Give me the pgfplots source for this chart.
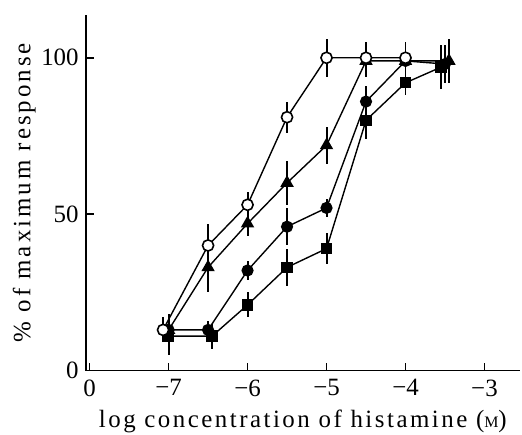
\documentclass[border=0pt]{standalone}
\usepackage{fontspec}
\setmainfont{Liberation Serif}
\usepackage{pgfplots}
\pgfplotsset{compat=1.18}
\usetikzlibrary{calc}
\begin{document}
\begin{tikzpicture}
\begin{axis}[
  scale only axis,
  width=218pt, height=178.5pt,
  xmin=-8.05, xmax=-2.55,
  ymin=0, ymax=113.7,
  axis x line*=bottom, axis y line*=left,
  axis line style={line width=0.9pt},
  tick style={black, line width=0.8pt},
  tick align=inside,
  major tick length=4pt,
  xtick={-8,-7,-6,-5,-4,-3},
  xticklabels={0,−7,−6,−5,−4,−3},
  ytick={0,50,100},
  yticklabels={0,50,100},
  ticklabel style={font=\fontsize{12.5}{14}\selectfont},
  x tick label style={yshift=-1pt},
  xlabel={\addfontfeature{LetterSpace=10}log concentration of histamine ({\footnotesize M})},
  ylabel={\addfontfeature{LetterSpace=12}\% of maximum response},
  label style={font=\fontsize{12.5}{14}\selectfont},
  xlabel style={yshift=0pt},
  ylabel style={yshift=-4pt},
  error bars/y dir=both, error bars/y explicit,
  error bars/error mark=none,
  error bars/error bar style={black, line width=1pt},
  clip=false,
]
% squares
\addplot[black, line width=0.7pt, mark=square*, mark size=2.5pt, mark options={fill=black, solid}] coordinates {
(-7,11) +- (0,6) (-6.45,11) +- (0,4) (-6,21) +- (0,4) (-5.5,33) +- (0,6)
(-5,39) +- (0,5) (-4.5,80) +- (0,6) (-4,92) +- (0,4) (-3.55,97) +- (0,7)};
% filled circles
\addplot[black, line width=0.7pt, mark=*, mark size=2.7pt, mark options={fill=black, solid}] coordinates {
(-7,13) +- (0,4) (-6.5,13) +- (0,3) (-6,32) +- (0,3) (-5.5,46) +- (0,6)
(-5,52) +- (0,3) (-4.5,86) +- (0,5) (-4,99) +- (0,4) (-3.5,98) +- (0,6)};
% triangles
\addplot[black, line width=0.7pt, mark=triangle*, mark size=3.2pt, mark options={fill=black, solid}] coordinates {
(-7,13) +- (0,5) (-6.5,33) +- (0,8) (-6,47) +- (0,4) (-5.5,60) +- (0,7)
(-5,72) +- (0,6) (-4.5,99) +- (0,5) (-4,99) +- (0,4) (-3.45,99) +- (0,7)};
% open circles
\addplot[black, line width=0.7pt, mark=*, mark size=2.8pt, mark options={fill=white, solid, line width=0.8pt}] coordinates {
(-7.07,13) +- (0,4) (-6.5,40) +- (0,7) (-6,53) +- (0,4) (-5.5,81) +- (0,5)
(-5,100) +- (0,6) (-4.5,100) +- (0,5) (-4,100) +- (0,5)};
\end{axis}
\pgfresetboundingbox
\path ($(current axis.south west)+(-43pt,-32pt)$) rectangle ($(current axis.north east)+(1pt,7.5pt)$);
\end{tikzpicture}
\end{document}
